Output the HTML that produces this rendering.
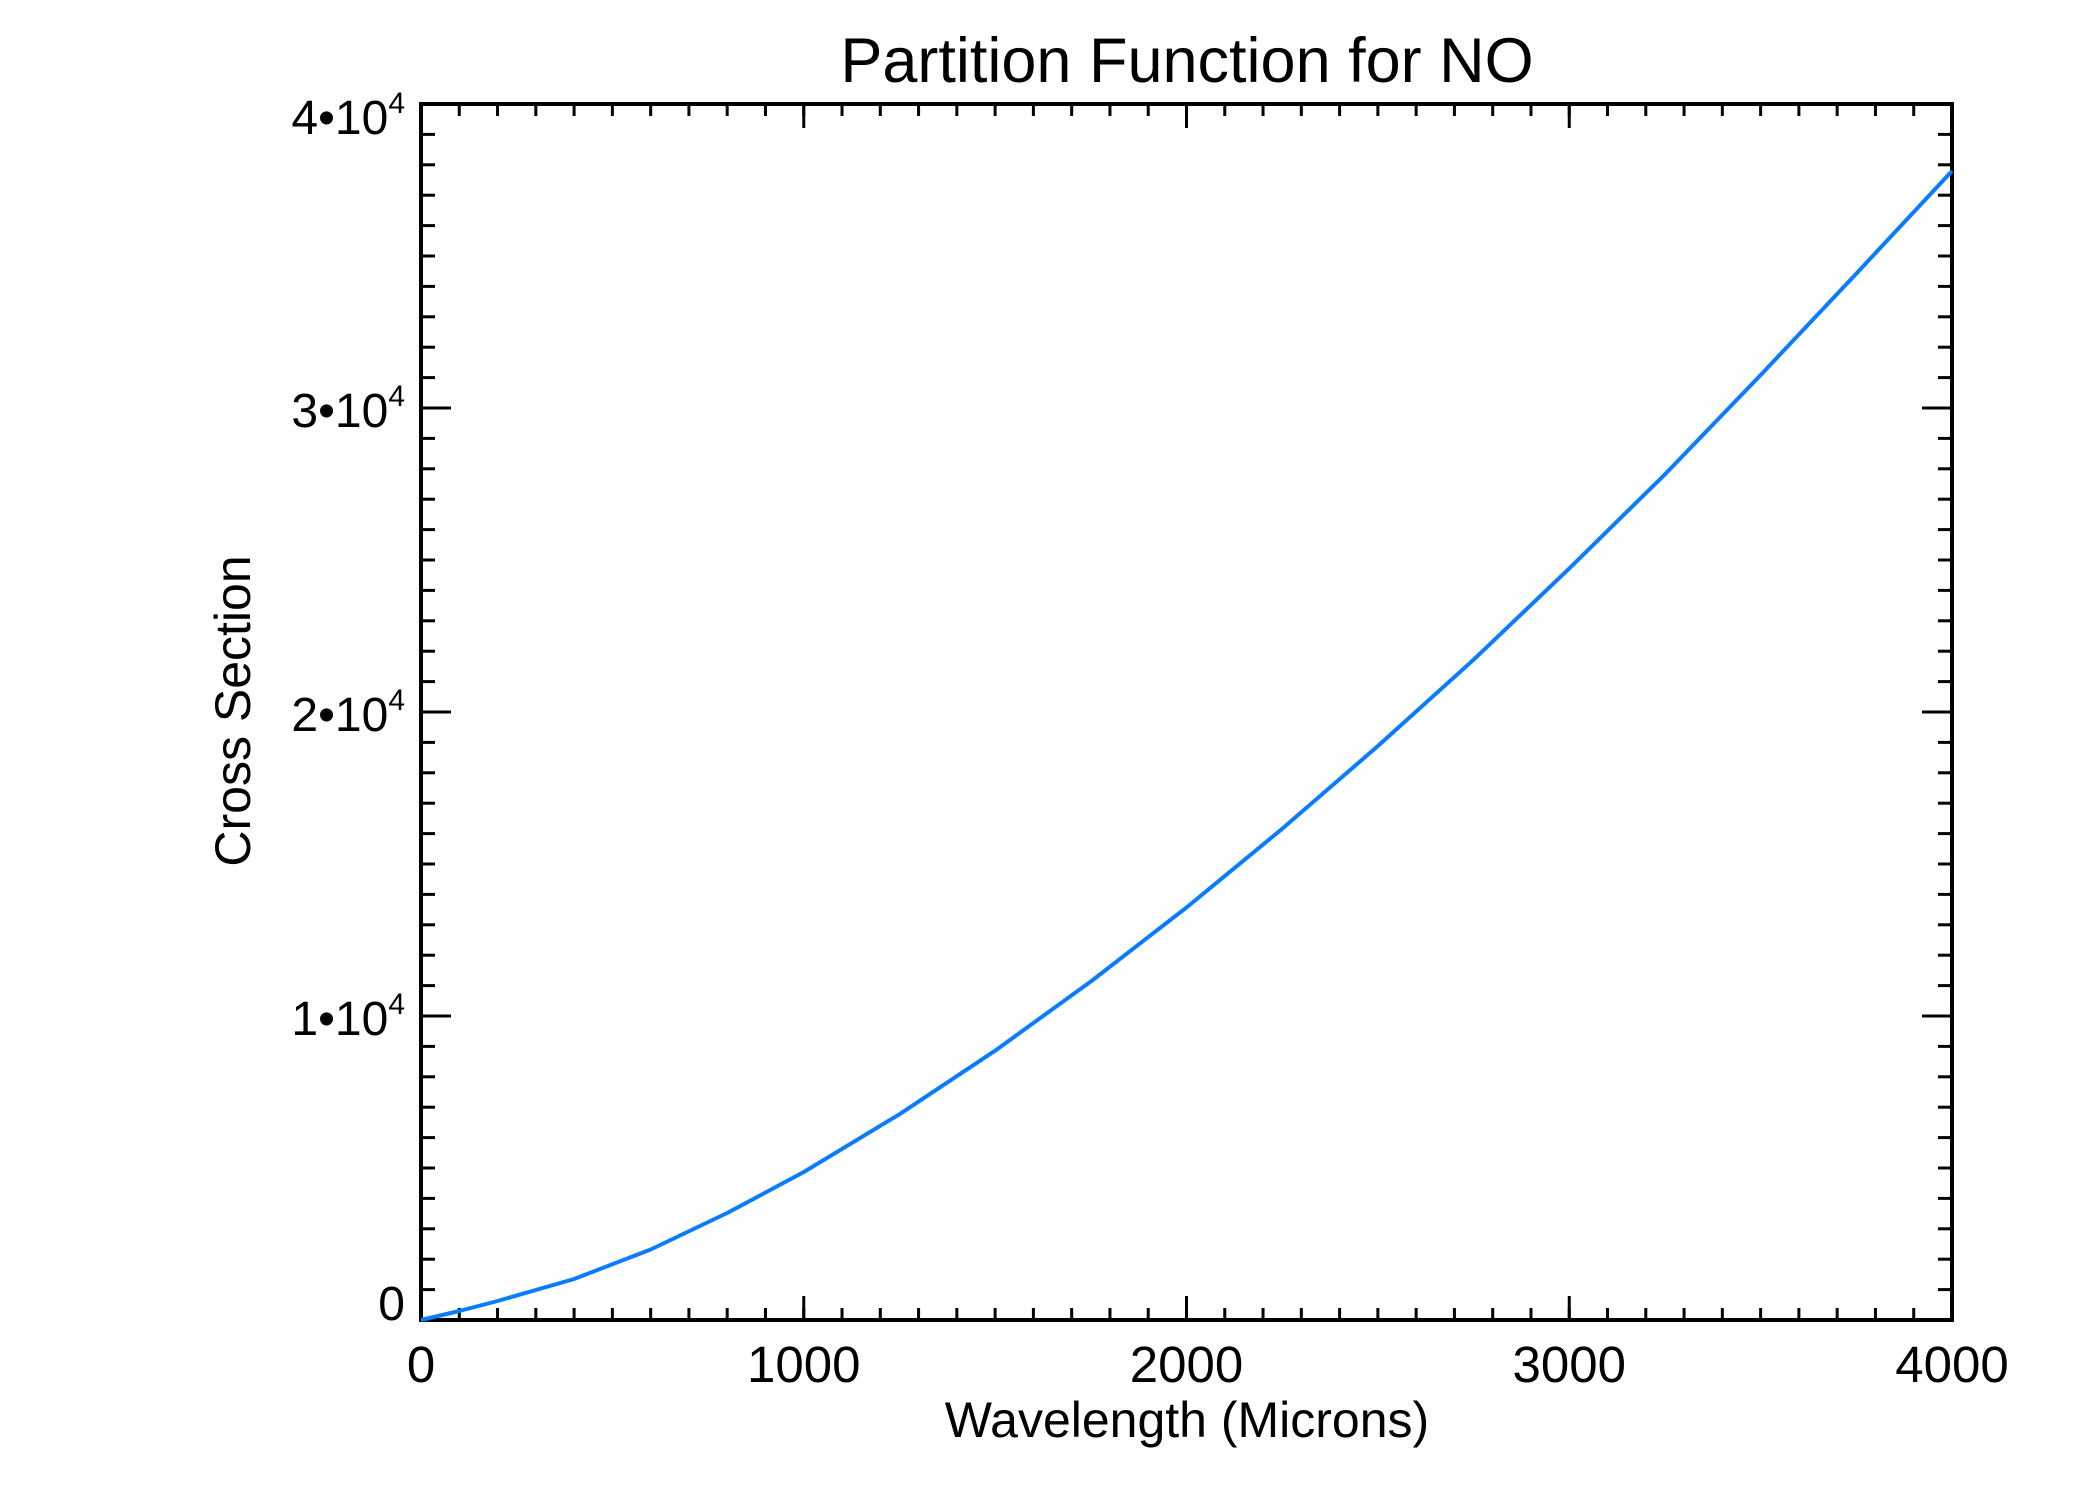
<!DOCTYPE html>
<html><head><meta charset="utf-8"><style>
html,body{margin:0;padding:0;background:#fff;}
svg{display:block;}
text{font-family:"Liberation Sans",sans-serif;fill:#000;}
</style></head><body>
<svg width="2100" height="1500" viewBox="0 0 2100 1500" xmlns="http://www.w3.org/2000/svg">
<defs>
<pattern id="px" patternUnits="userSpaceOnUse" x="419.5" y="0" width="38.275" height="2000">
<rect x="0" y="0" width="3" height="2000" fill="#000"/></pattern>
<pattern id="py" patternUnits="userSpaceOnUse" x="0" y="102.5" width="3000" height="30.4">
<rect x="0" y="0" width="3000" height="3" fill="#000"/></pattern>
</defs>
<rect width="2100" height="1500" fill="#fff"/>
<rect x="419.5" y="1308" width="1533" height="12" fill="url(#px)"/>
<rect x="419.5" y="104" width="1533" height="12" fill="url(#px)"/>
<rect x="421" y="102.5" width="14" height="1219" fill="url(#py)"/>
<rect x="1938" y="102.5" width="14" height="1219" fill="url(#py)"/>
<g stroke="#000" stroke-width="3">
<line x1="803.75" y1="1320" x2="803.75" y2="1296"/>
<line x1="1186.5" y1="1320" x2="1186.5" y2="1296"/>
<line x1="1569.25" y1="1320" x2="1569.25" y2="1296"/>
<line x1="803.75" y1="104" x2="803.75" y2="128"/>
<line x1="1186.5" y1="104" x2="1186.5" y2="128"/>
<line x1="1569.25" y1="104" x2="1569.25" y2="128"/>
<line x1="421" y1="1016" x2="451" y2="1016"/>
<line x1="421" y1="712" x2="451" y2="712"/>
<line x1="421" y1="408" x2="451" y2="408"/>
<line x1="1952" y1="1016" x2="1922" y2="1016"/>
<line x1="1952" y1="712" x2="1922" y2="712"/>
<line x1="1952" y1="408" x2="1922" y2="408"/>
</g>
<rect x="421" y="104" width="1531" height="1216" fill="none" stroke="#000" stroke-width="4"/>
<polyline fill="none" stroke="#0a7cff" stroke-width="4" stroke-linejoin="round"
points="421,1320 459.3,1311 497.6,1301 574.1,1279 650.7,1249.5 727.2,1213 803.8,1172 899.4,1114.3 995.1,1050.7 1090.8,981.5 1186.5,907.5 1282.2,828.8 1377.9,746 1473.6,659.7 1569.3,568.4 1664.9,474.4 1760.6,375.1 1856.3,273.6 1952,171"/>
<text x="1187" y="82" font-size="63" text-anchor="middle">Partition Function for NO</text>
<g font-size="51" text-anchor="middle">
<text x="421" y="1382">0</text>
<text x="803.75" y="1382">1000</text>
<text x="1186.5" y="1382">2000</text>
<text x="1569.25" y="1382">3000</text>
<text x="1952" y="1382">4000</text>
</g>
<text x="1187" y="1437" font-size="50" text-anchor="middle">Wavelength (Microns)</text>
<g font-size="48" text-anchor="end">
<text x="405" y="1320">0</text>
<text x="405" y="1035">1•10<tspan font-size="30" dy="-21">4</tspan></text>
<text x="405" y="731">2•10<tspan font-size="30" dy="-21">4</tspan></text>
<text x="405" y="427">3•10<tspan font-size="30" dy="-21">4</tspan></text>
<text x="405" y="134">4•10<tspan font-size="30" dy="-21">4</tspan></text>
</g>
<text transform="translate(250,711) rotate(-90)" font-size="50" text-anchor="middle">Cross Section</text>
</svg>
</body></html>
